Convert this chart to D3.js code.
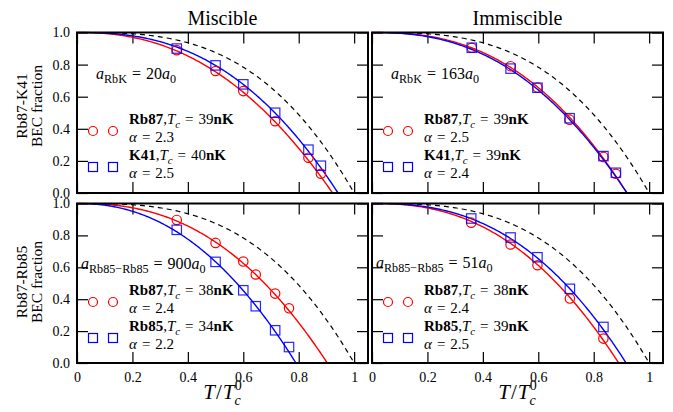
<!DOCTYPE html>
<html>
<head>
<meta charset="utf-8">
<script src="https://cdn.jsdelivr.net/npm/d3@7"></script>
<style>
  html, body { margin: 0; padding: 0; background: #fff; }
  svg { display: block; }
  text { font-family: "Liberation Serif", "DejaVu Serif", serif; fill: #000; }
</style>
</head>
<body>
<svg id="chart" width="673" height="412"></svg>
<script>
// ---- data ----
const xTicks = [0, 0.2, 0.4, 0.6, 0.8, 1.0];
const xTickLabels = ["0", "0.2", "0.4", "0.6", "0.8", "1"];
const yTicks = [0, 0.2, 0.4, 0.6, 0.8, 1.0];
const yTickLabels = ["0.0", "0.2", "0.4", "0.6", "0.8", "1.0"];

const columnTitles = ["Miscible", "Immiscible"];
const rowLabels = [["Rb87-K41", "BEC fraction"], ["Rb87-Rb85", "BEC fraction"]];

// Rb87-K41, miscible
const mixKT = [0.36, 0.50, 0.60, 0.715, 0.835, 0.88];
const mixKRb87 = [0.89, 0.76, 0.635, 0.447, 0.22, 0.12];
const mixKK41 = [0.90, 0.795, 0.677, 0.50, 0.27, 0.17];
// Rb87-K41, immiscible
const immKT = [0.36, 0.50, 0.597, 0.713, 0.835, 0.88];
const immKRb87 = [0.905, 0.79, 0.657, 0.457, 0.225, 0.12];
const immKK41 = [0.905, 0.775, 0.656, 0.466, 0.23, 0.126];
// Rb87-Rb85, miscible
const mixRbT = [0.36, 0.50, 0.60, 0.645, 0.715, 0.765];
const mixRbRb87 = [0.897, 0.753, 0.636, 0.555, 0.435, 0.343];
const mixRbRb85 = [0.835, 0.634, 0.456, 0.356, 0.205, 0.10];
// Rb87-Rb85, immiscible
const immRbT = [0.358, 0.50, 0.597, 0.714, 0.835];
const immRbRb87 = [0.88, 0.743, 0.613, 0.404, 0.153];
const immRbRb85 = [0.906, 0.787, 0.663, 0.465, 0.226];

// fit parameters: exponent alpha and Tc / Tc0 where the condensate vanishes
const fitAlpha = [[2.3, 2.5], [2.5, 2.4], [2.4, 2.2], [2.4, 2.5]];
const fitTcRatio = [[0.922, 0.942], [0.92, 0.92], [0.903, 0.79], [0.89, 0.917]];
const tcLabels = [["39", "40"], ["39", "39"], ["38", "34"], ["38", "39"]];
const speciesNames = [["Rb87", "K41"], ["Rb87", "K41"], ["Rb87", "Rb85"], ["Rb87", "Rb85"]];
const scatterLabels = [["a", "RbK", "20"], ["a", "RbK", "163"], ["a", "Rb85\u2212Rb85", "900"], ["a", "Rb85\u2212Rb85", "51"]];
const idealExponent = 3;

const panelData = [
  { t: mixKT, f: [mixKRb87, mixKK41] },
  { t: immKT, f: [immKRb87, immKK41] },
  { t: mixRbT, f: [mixRbRb87, mixRbRb85] },
  { t: immRbT, f: [immRbRb87, immRbRb85] }
];

// ---- layout ----
const svg = d3.select("#chart");
svg.append("rect").attr("width", 673).attr("height", 412).attr("fill", "#fff");

const boxes = [
  { x0: 77, x1: 368, y0: 32.5, y1: 193 },
  { x0: 372, x1: 663, y0: 32.5, y1: 193 },
  { x0: 77, x1: 368, y0: 203.5, y1: 363 },
  { x0: 372, x1: 663, y0: 203.5, y1: 363 }
];
const annot = [
  { dx: 19, dy: 46 }, { dx: 19, dy: 46 }, { dx: 4, dy: 65.5 }, { dx: 4, dy: 64.5 }
];
const colors = ["#ff0000", "#0000ff"];
const FS = 15;

// rich text: segments of {t, s: 'it'|'bf'|'rm', sub, sup, dx}
function rich(sel, x, y, segs, size, subScale) {
  const sc = subScale || 0.72;
  const txt = sel.append("text").attr("x", x).attr("y", y).attr("font-size", size);
  let shift = 0;
  segs.forEach(s => {
    const sp = txt.append("tspan").text(s.t);
    let target = 0;
    let fs = size;
    if (s.sub) { target = size * 0.28; fs = size * sc; }
    if (s.sup) { target = -size * 0.42; fs = size * sc; }
    sp.attr("dy", target - shift).attr("font-size", fs);
    shift = target;
    if (s.dx) sp.attr("dx", s.dx);
    if (s.s === "it") sp.attr("font-style", "italic");
    if (s.s === "bf") sp.attr("font-weight", "bold");
  });
  return txt;
}

boxes.forEach((b, i) => {
  const x = d3.scaleLinear().domain([0, 1.05]).range([b.x0, b.x1]);
  const y = d3.scaleLinear().domain([0, 1]).range([b.y1, b.y0]);
  const g = svg.append("g");
  const clipId = "clip" + i;
  svg.append("clipPath").attr("id", clipId).append("rect")
    .attr("x", b.x0).attr("y", b.y0 - 1).attr("width", b.x1 - b.x0).attr("height", b.y1 - b.y0 + 2);

  g.append("rect").attr("x", b.x0).attr("y", b.y0)
    .attr("width", b.x1 - b.x0).attr("height", b.y1 - b.y0).attr("fill", "#fff");

  // inward ticks on all four sides
  const tl = 11;
  const bottomAx = d3.axisBottom(x).tickValues(xTicks).tickSizeInner(-tl).tickSizeOuter(0)
    .tickFormat((d, k) => xTickLabels[k]);
  const topAx = d3.axisTop(x).tickValues(xTicks).tickSizeInner(-tl).tickSizeOuter(0).tickFormat("");
  const leftAx = d3.axisLeft(y).tickValues(yTicks).tickSizeInner(-tl).tickSizeOuter(0)
    .tickFormat((d, k) => yTickLabels[k]);
  const rightAx = d3.axisRight(y).tickValues(yTicks).tickSizeInner(-tl).tickSizeOuter(0).tickFormat("");

  const axB = g.append("g").attr("transform", `translate(0,${b.y1})`).call(bottomAx);
  const axT = g.append("g").attr("transform", `translate(0,${b.y0})`).call(topAx);
  const axL = g.append("g").attr("transform", `translate(${b.x0},0)`).call(leftAx);
  const axR = g.append("g").attr("transform", `translate(${b.x1},0)`).call(rightAx);
  [axB, axT, axL, axR].forEach(a => {
    a.attr("font-family", null);
    a.select(".domain").remove();
    a.selectAll(".tick line").attr("stroke", "#000").attr("stroke-width", 1.2);
    a.selectAll(".tick text").attr("font-size", 14).attr("fill", "#000");
  });
  if (i < 2) axB.selectAll(".tick text").remove();
  else axB.selectAll(".tick text").attr("y", 9).attr("dy", "0.71em");
  if (i % 2 === 1) axL.selectAll(".tick text").remove();
  else axL.selectAll(".tick text").attr("x", -7);

  const pd = panelData[i];
  const plot = g.append("g").attr("clip-path", `url(#${clipId})`);

  // ideal-gas reference 1 - t^3
  const idealPts = d3.range(0, 1.0001, 0.005).map(t => [t, 1 - Math.pow(t, idealExponent)]);
  const line = d3.line().x(d => x(d[0])).y(d => y(d[1]));
  plot.append("path").datum(idealPts).attr("d", line)
    .attr("fill", "none").attr("stroke", "#000").attr("stroke-width", 1.2)
    .attr("stroke-dasharray", "5,4");

  // fitted curves 1 - (t / tc)^alpha
  [0, 1].forEach(s => {
    const a = fitAlpha[i][s], tc = fitTcRatio[i][s];
    const pts = d3.range(0, 1.0001, 0.005).map(u => [u * tc, 1 - Math.pow(u, a)]);
    plot.append("path").datum(pts).attr("d", line)
      .attr("fill", "none").attr("stroke", colors[s]).attr("stroke-width", 1.4);
  });

  // measured points
  pd.f[0].forEach((v, k) => {
    plot.append("circle").attr("cx", x(pd.t[k])).attr("cy", y(v)).attr("r", 4.7)
      .attr("fill", "none").attr("stroke", colors[0]).attr("stroke-width", 1.2);
  });
  pd.f[1].forEach((v, k) => {
    plot.append("rect").attr("x", x(pd.t[k]) - 4.7).attr("y", y(v) - 4.7)
      .attr("width", 9.4).attr("height", 9.4)
      .attr("fill", "none").attr("stroke", colors[1]).attr("stroke-width", 1.2)
      .attr("stroke-opacity", 0.85);
  });

  // frame
  g.append("rect").attr("x", b.x0).attr("y", b.y0)
    .attr("width", b.x1 - b.x0).attr("height", b.y1 - b.y0)
    .attr("fill", "none").attr("stroke", "#000").attr("stroke-width", 2);

  // scattering length annotation
  const sl = scatterLabels[i];
  rich(g, b.x0 + annot[i].dx, b.y0 + annot[i].dy, [
    { t: sl[0], s: "it" }, { t: sl[1], sub: true }, { t: "=", dx: 5 }, { t: sl[2], dx: 5 },
    { t: sl[0], s: "it" }, { t: "0", sub: true }
  ], 16, 0.76);

  // legend
  const rows = [98.5, 134.5];
  [0, 1].forEach(s => {
    const ry = b.y0 + rows[s];
    [16, 36].forEach(off => {
      if (s === 0) {
        g.append("circle").attr("cx", b.x0 + off).attr("cy", ry).attr("r", 4.5)
          .attr("fill", "none").attr("stroke", colors[0]).attr("stroke-width", 1.2);
      } else {
        g.append("rect").attr("x", b.x0 + off - 4.5).attr("y", ry - 4.5).attr("width", 9).attr("height", 9)
          .attr("fill", "none").attr("stroke", colors[1]).attr("stroke-width", 1.2);
      }
    });
    rich(g, b.x0 + 52, ry - 7, [
      { t: speciesNames[i][s], s: "bf" }, { t: "," }, { t: "T", s: "it" }, { t: "c", s: "it", sub: true },
      { t: "=", dx: 5 }, { t: tcLabels[i][s], dx: 5 }, { t: "nK", s: "bf" }
    ], FS);
    rich(g, b.x0 + 52, ry + 10.5, [
      { t: "\u03b1", s: "it" }, { t: "=", dx: 5 }, { t: fitAlpha[i][s].toFixed(1), dx: 5 }
    ], FS);
  });
});

// column titles
columnTitles.forEach((t, c) => {
  const b = boxes[c];
  svg.append("text").attr("x", (b.x0 + b.x1) / 2).attr("y", 25)
    .attr("text-anchor", "middle").attr("font-size", 20).text(t);
});

// row labels
rowLabels.forEach((lines, r) => {
  const cy = r === 0 ? 106 : 282;
  const t = svg.append("text").attr("transform", `translate(27,${cy}) rotate(-90)`)
    .attr("text-anchor", "middle").attr("font-size", 15.5);
  t.append("tspan").attr("x", 0).attr("y", 0).text(lines[0]);
  t.append("tspan").attr("x", 0).attr("y", 15).text(lines[1]);
});

// x axis labels
[2, 3].forEach(i => {
  const b = boxes[i];
  const cx = b.x0 + (b.x1 - b.x0) * (0.525 / 1.05);
  const t = svg.append("text").attr("x", cx).attr("y", 399).attr("text-anchor", "middle")
    .attr("font-size", 21);
  t.append("tspan").attr("font-style", "italic").text("T");
  t.append("tspan").attr("dx", 1).text("/");
  t.append("tspan").attr("font-style", "italic").attr("dx", 1).text("T");
  t.append("tspan").attr("font-style", "italic").attr("font-size", 14).attr("dy", 6).text("c");
  t.append("tspan").attr("font-size", 14).attr("dx", -6).attr("dy", -15).text("0");
});
</script>
</body>
</html>
